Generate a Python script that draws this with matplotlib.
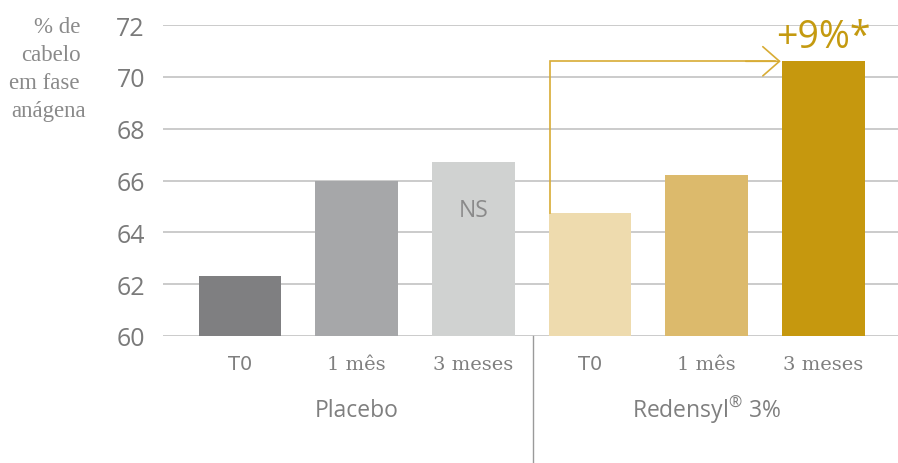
import matplotlib
matplotlib.use("Agg")
import matplotlib.pyplot as plt
from matplotlib.lines import Line2D
import matplotlib.transforms as mtransforms

plt.rcParams["font.family"] = ["Open Sans", "DejaVu Sans"]
plt.rcParams["mathtext.fontset"] = "custom"
plt.rcParams["mathtext.rm"] = "Open Sans"

# data
groups = ["Placebo", "Redensyl"]
periods = ["T0", "1 mês", "3 meses"]
placebo = [62.3, 66.0, 66.73]
redensyl = [64.75, 66.2, 70.6]
bar_colors = ["#7f7f81", "#a6a7a9", "#d0d2d1", "#eedbae", "#dcba6c", "#c6980e"]
y_ticks = [60, 62, 64, 66, 68, 70, 72]
gain_label = "+9%*"

values = placebo + redensyl
xs = list(range(len(values)))
bar_w = 0.71

W, H = 898, 464
fig = plt.figure(figsize=(W / 100, H / 100), dpi=100)
ax = fig.add_axes([163 / W, (H - 337) / H, (W - 163) / W, 311 / H])

ax.bar(xs, values, width=bar_w, color=bar_colors, zorder=3)
ax.set_ylim(60, 72)
ax.set_xlim(-0.66, 5.64)
ax.set_yticks(y_ticks)
ax.grid(axis="y", color="#bdbdbd", lw=1.1, zorder=0)
ax.set_axisbelow(True)
for s in ax.spines.values():
    s.set_visible(False)
ax.set_xticks([])
ax.tick_params(axis="y", length=0, pad=13, labelsize=18, labelcolor="#7a7a7a")

# category labels under bars
for i, x in enumerate(xs):
    lab = periods[i % 3]
    if lab == "T0":
        fp = dict(family=["DejaVu Sans"], fontsize=14)
    else:
        fp = dict(family=["DejaVu Serif"], fontsize=14)
    ax.annotate(lab, xy=(x, 0), xycoords=("data", "axes fraction"),
                xytext=(0, -20), textcoords="offset points",
                ha="center", va="center", color="#7f7f7f", **fp)

# group labels
group_names = ["Placebo", r"Redensyl$^{\mathrm{®}}$ 3%"]
for g, name in enumerate(group_names):
    cx = sum(xs[g * 3:(g + 1) * 3]) / 3
    ax.annotate(name, xy=(cx, 0), xycoords=("data", "axes fraction"),
                xytext=(0, -53), textcoords="offset points",
                ha="center", va="center", color="#7f7f7f", fontsize=16.5)

# group separator
trans = mtransforms.blended_transform_factory(ax.transData, ax.transAxes)
ax.add_line(Line2D([2.51, 2.51], [0, -127 / 311], transform=trans,
                   color="#9a9a9a", lw=1.0, clip_on=False))

# NS label on placebo 3 months
ax.text(xs[2], 64.85, "NS", ha="center", va="center", color="#8a8a8a", fontsize=16.5, zorder=4)

# arrow from redensyl T0 to 3 months
x0 = xs[3] - bar_w / 2 + 0.015
tip = xs[5] - bar_w / 2 - 0.01
arrow_c = "#d8ac35"
ax.plot([x0, x0, tip - 0.05], [redensyl[0], redensyl[2], redensyl[2]],
        color=arrow_c, lw=1.2, zorder=4, solid_joinstyle="miter")
ax.annotate("", xy=(tip, redensyl[2]), xytext=(tip - 0.3, redensyl[2]),
            arrowprops=dict(arrowstyle="->,head_length=1.2,head_width=1.05",
                            color=arrow_c, lw=1.2, shrinkA=0, shrinkB=0), zorder=4)
ax.annotate(gain_label, xy=(xs[5], redensyl[2]), xytext=(0, 10), textcoords="offset points",
            ha="center", va="baseline", color="#c49a10", fontsize=27)

# y axis title
ylines = [("% de", 57, 33), ("cabelo", 51, 61), ("em fase", 44, 89), ("anágena", 49, 117)]
for txt, cx, base in ylines:
    fig.text(cx / W, 1 - base / H, txt, ha="center", va="baseline",
             family=["Liberation Serif", "DejaVu Serif"], fontsize=16.5, color="#8a8a8a")

fig.savefig("out.png", dpi=100)
